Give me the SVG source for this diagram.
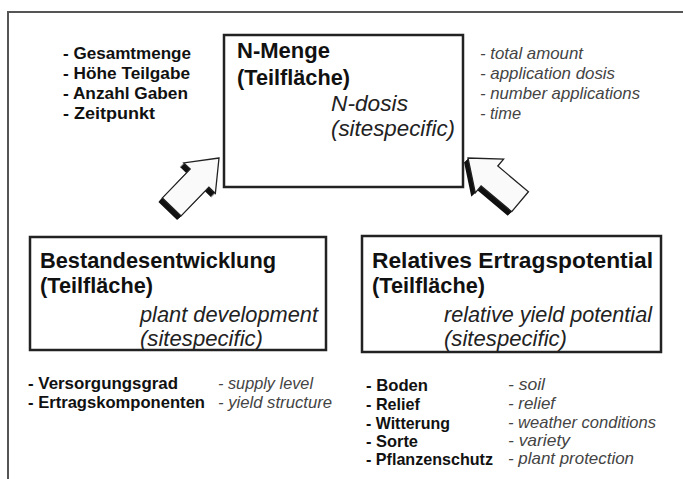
<svg xmlns="http://www.w3.org/2000/svg" width="683" height="479" viewBox="0 0 683 479">
<defs>
<style>
.frame{fill:none;stroke:#555;stroke-width:2}
.box{fill:#fff;stroke:#222;stroke-width:2.5}
.hd{font-family:"Liberation Sans",Arial,sans-serif;font-weight:bold;font-size:22px;fill:#111}
.it{font-family:"Liberation Sans",Arial,sans-serif;font-style:italic;font-size:22px;fill:#222}
.lb{font-family:"Liberation Sans",Arial,sans-serif;font-weight:bold;font-size:17px;fill:#111}
.li{font-family:"Liberation Sans",Arial,sans-serif;font-style:italic;font-size:17px;fill:#444}
.shadow{fill:#111}
.face{fill:#fafafa;stroke:#222;stroke-width:1.3;stroke-linejoin:miter}
</style>
<polygon id="arr" points="0,0 -28,-22 -28,-13 -68,-13 -68,13 -28,13 -28,22"/>
</defs>
<rect width="683" height="479" fill="#fff"/>
<path class="frame" d="M8,479 V12 H683"/>

<g id="n-menge">
<rect class="box" x="224" y="35" width="239" height="152"/>
<text class="hd" x="237" y="58" textLength="93" lengthAdjust="spacingAndGlyphs">N-Menge</text>
<text class="hd" x="237" y="85" textLength="113" lengthAdjust="spacingAndGlyphs">(Teilfläche)</text>
<text class="it" x="331" y="111" textLength="77" lengthAdjust="spacingAndGlyphs">N-dosis</text>
<text class="it" x="331" y="136" textLength="124" lengthAdjust="spacingAndGlyphs">(sitespecific)</text>
</g>

<g id="n-menge-factors">
<text class="lb" x="63" y="59" textLength="128" lengthAdjust="spacingAndGlyphs">- Gesamtmenge</text>
<text class="lb" x="63" y="79" textLength="127" lengthAdjust="spacingAndGlyphs">- Höhe Teilgabe</text>
<text class="lb" x="63" y="99" textLength="125" lengthAdjust="spacingAndGlyphs">- Anzahl Gaben</text>
<text class="lb" x="63" y="119" textLength="92" lengthAdjust="spacingAndGlyphs">- Zeitpunkt</text>
</g>

<g id="n-menge-factors-en">
<text class="li" x="480" y="59" textLength="103" lengthAdjust="spacingAndGlyphs">- total amount</text>
<text class="li" x="480" y="79" textLength="135" lengthAdjust="spacingAndGlyphs">- application dosis</text>
<text class="li" x="480" y="99" textLength="160" lengthAdjust="spacingAndGlyphs">- number applications</text>
<text class="li" x="480" y="119" textLength="41" lengthAdjust="spacingAndGlyphs">- time</text>
</g>

<g id="bestandesentwicklung">
<rect class="box" x="30" y="237" width="296" height="113"/>
<text class="hd" x="40" y="268" textLength="236" lengthAdjust="spacingAndGlyphs">Bestandesentwicklung</text>
<text class="hd" x="40" y="293" textLength="113" lengthAdjust="spacingAndGlyphs">(Teilfläche)</text>
<text class="it" x="140" y="322" textLength="178" lengthAdjust="spacingAndGlyphs">plant development</text>
<text class="it" x="140" y="346" textLength="123" lengthAdjust="spacingAndGlyphs">(sitespecific)</text>
</g>

<g id="ertragspotential">
<rect class="box" x="362" y="236" width="299" height="116"/>
<text class="hd" x="372" y="268" textLength="281" lengthAdjust="spacingAndGlyphs">Relatives Ertragspotential</text>
<text class="hd" x="372" y="293" textLength="113" lengthAdjust="spacingAndGlyphs">(Teilfläche)</text>
<text class="it" x="444" y="322" textLength="208" lengthAdjust="spacingAndGlyphs">relative yield potential</text>
<text class="it" x="444" y="346" textLength="123" lengthAdjust="spacingAndGlyphs">(sitespecific)</text>
</g>

<g id="bestand-factors">
<text class="lb" x="28" y="389" textLength="150" lengthAdjust="spacingAndGlyphs">- Versorgungsgrad</text>
<text class="lb" x="28" y="408" textLength="177" lengthAdjust="spacingAndGlyphs">- Ertragskomponenten</text>
<text class="li" x="218" y="389" textLength="95" lengthAdjust="spacingAndGlyphs">- supply level</text>
<text class="li" x="218" y="408" textLength="114" lengthAdjust="spacingAndGlyphs">- yield structure</text>
</g>

<g id="ertrag-factors">
<text class="lb" x="366" y="391" textLength="62" lengthAdjust="spacingAndGlyphs">- Boden</text>
<text class="lb" x="366" y="410" textLength="54" lengthAdjust="spacingAndGlyphs">- Relief</text>
<text class="lb" x="366" y="429" textLength="84" lengthAdjust="spacingAndGlyphs">- Witterung</text>
<text class="lb" x="366" y="447" textLength="52" lengthAdjust="spacingAndGlyphs">- Sorte</text>
<text class="lb" x="366" y="465" textLength="127" lengthAdjust="spacingAndGlyphs">- Pflanzenschutz</text>
<text class="li" x="508" y="390" textLength="37" lengthAdjust="spacingAndGlyphs">- soil</text>
<text class="li" x="508" y="409" textLength="47" lengthAdjust="spacingAndGlyphs">- relief</text>
<text class="li" x="508" y="428" textLength="148" lengthAdjust="spacingAndGlyphs">- weather conditions</text>
<text class="li" x="508" y="446" textLength="62" lengthAdjust="spacingAndGlyphs">- variety</text>
<text class="li" x="508" y="464" textLength="126" lengthAdjust="spacingAndGlyphs">- plant protection</text>
</g>

<g id="connectors">
<g id="arrow-left">
<g class="shadow">
<use href="#arr" transform="translate(215,162) rotate(-46)"/>
<use href="#arr" transform="translate(216,161) rotate(-46)"/>
<use href="#arr" transform="translate(217,160) rotate(-46)"/>
<use href="#arr" transform="translate(218,159) rotate(-46)"/>
</g>
<use href="#arr" class="face" transform="translate(219,158) rotate(-46)"/>
</g>
<g id="arrow-right">
<g class="shadow">
<use href="#arr" transform="translate(464,162) rotate(-140)"/>
<use href="#arr" transform="translate(465,161) rotate(-140)"/>
<use href="#arr" transform="translate(466,160) rotate(-140)"/>
<use href="#arr" transform="translate(467,159) rotate(-140)"/>
</g>
<use href="#arr" class="face" transform="translate(468,158) rotate(-140)"/>
</g>
</g>
</svg>
